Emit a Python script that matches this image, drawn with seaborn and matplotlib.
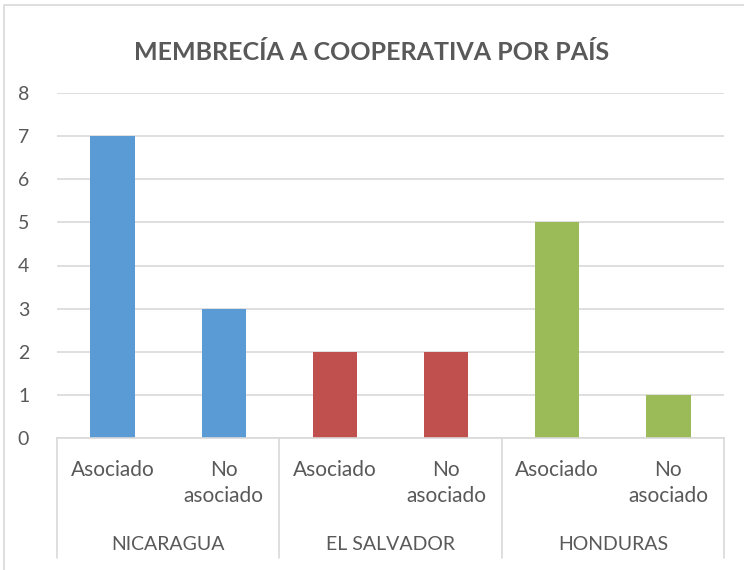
import matplotlib
matplotlib.use("Agg")
import matplotlib.pyplot as plt
import matplotlib.transforms as mtrans
from matplotlib.patches import Rectangle
import seaborn as sns
import pandas as pd

countries = ["NICARAGUA", "NICARAGUA", "EL SALVADOR", "EL SALVADOR", "HONDURAS", "HONDURAS"]
groups = ["Asociado", "No\nasociado", "Asociado", "No\nasociado", "Asociado", "No\nasociado"]
values = [7, 3, 2, 2, 5, 1]
country_names = ["NICARAGUA", "EL SALVADOR", "HONDURAS"]
colors = ["#5B9BD5", "#C0504D", "#9BBB59"]
yticks = [0, 1, 2, 3, 4, 5, 6, 7, 8]
title = "MEMBRECÍA A COOPERATIVA POR PAÍS"

df = pd.DataFrame({
    "pos": [str(i) for i in range(len(values))],
    "grupo": groups,
    "pais": countries,
    "valor": values,
})

sns.set_theme(style="white")
plt.rcParams['font.family'] = ['Lato', 'DejaVu Sans']

fig = plt.figure(figsize=(7.44, 5.70), dpi=100)
ax = fig.add_axes([57/744, 1-438/570, (724-57)/744, (438-93)/570])

sns.barplot(data=df, x="pos", y="valor", hue="pais", palette=colors,
            dodge=False, width=0.4, legend=False, ax=ax, saturation=1,
            linewidth=0)

ax.set_ylim(0, 8)
ax.set_xlim(-0.5, len(values) - 0.5)
ax.set_yticks(yticks)
ax.set_yticklabels([str(t) for t in yticks], fontsize=14, color="#595959")
ax.yaxis.grid(True, color="#D9D9D9", linewidth=1.2)
ax.set_axisbelow(True)
ax.set_xlabel("")
ax.set_ylabel("")
ax.set_xticks(range(len(values)))
ax.set_xticklabels(groups, fontsize=15, color="#595959", linespacing=1.35)
ax.tick_params(axis="y", length=0, pad=20)
ax.tick_params(axis="x", length=0, pad=16)
for s in ["left", "right", "top"]:
    ax.spines[s].set_visible(False)
ax.spines["bottom"].set_color("#D9D9D9")
ax.spines["bottom"].set_linewidth(1.2)

trans = mtrans.blended_transform_factory(ax.transData, ax.transAxes)
axh = (438 - 93)
bottom_frac = -(558 - 438) / axh
for xb in [-0.5, 1.5, 3.5, 5.5]:
    ax.plot([xb, xb], [0, bottom_frac], transform=trans, color="#D9D9D9",
            linewidth=1.2, clip_on=False)
label_y = -(545 - 438) / axh
for i, name in enumerate(country_names):
    ax.text(2 * i + 0.5, label_y, name, transform=trans, ha="center", va="center",
            fontsize=14, color="#595959")

fig.text(0.5, 1 - 53/570, title, ha="center", va="center", fontsize=18,
         fontweight="bold", color="#595959")

fig.patches.append(Rectangle((4/744, -0.05), 1.0, 1 - 5/570 + 0.05,
                             transform=fig.transFigure, fill=False,
                             edgecolor="#D9D9D9", linewidth=1.2))

fig.savefig("out.png", dpi=100)
